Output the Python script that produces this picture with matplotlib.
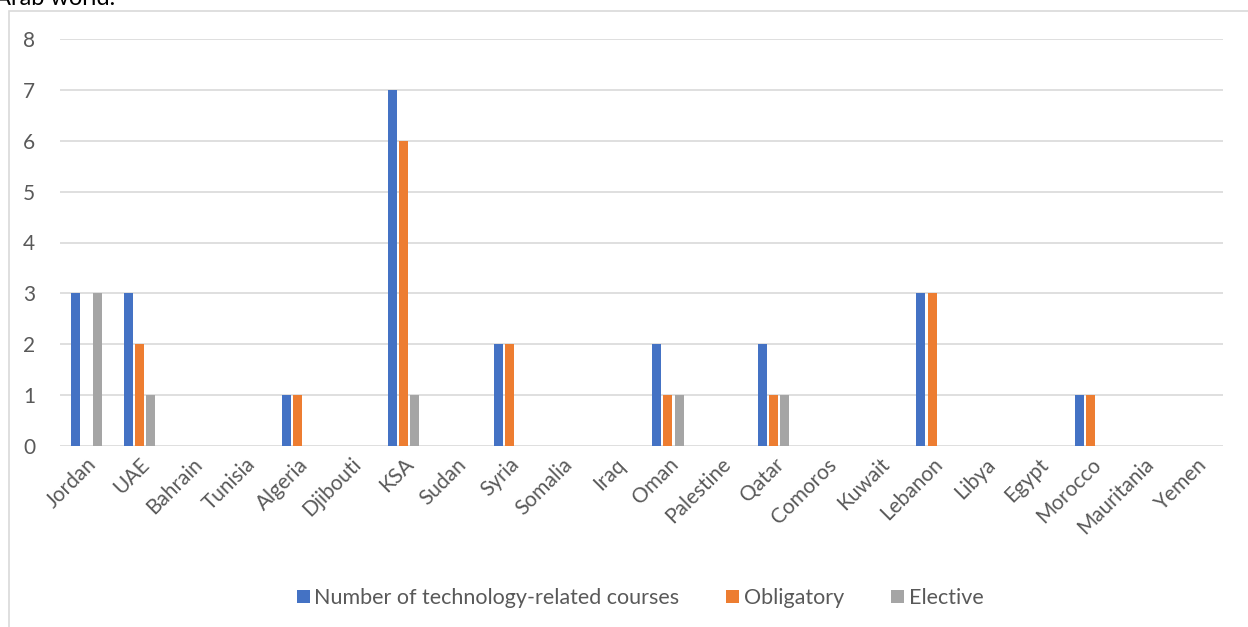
import matplotlib
matplotlib.use("Agg")
import matplotlib.pyplot as plt
import numpy as np
from matplotlib.patches import Rectangle, Patch

countries = ["Jordan", "UAE", "Bahrain", "Tunisia", "Algeria", "Djibouti", "KSA", "Sudan",
             "Syria", "Somalia", "Iraq", "Oman", "Palestine", "Qatar", "Comoros", "Kuwait",
             "Lebanon", "Libya", "Egypt", "Morocco", "Mauritania", "Yemen"]
total = [3, 3, 0, 0, 1, 0, 7, 0, 2, 0, 0, 2, 0, 2, 0, 0, 3, 0, 0, 1, 0, 0]
obligatory = [0, 2, 0, 0, 1, 0, 6, 0, 2, 0, 0, 1, 0, 1, 0, 0, 3, 0, 0, 1, 0, 0]
elective = [3, 1, 0, 0, 0, 0, 1, 0, 0, 0, 0, 1, 0, 1, 0, 0, 0, 0, 0, 0, 0, 0]
series_names = ["Number of technology-related courses", "Obligatory", "Elective"]
colors = ["#4472C4", "#ED7D31", "#A5A5A5"]

plt.rcParams['font.family'] = ['Lato', 'DejaVu Sans']
W, H = 1248, 627
fig = plt.figure(figsize=(W/100, H/100), dpi=100)
ax = fig.add_axes([60/W, 1-446/H, (1223-60)/W, (446-39)/H])

x = np.arange(len(countries))
bw = 0.17
gap = 0.043
for i, (vals, c) in enumerate(zip([total, obligatory, elective], colors)):
    ax.bar(x + (i-1)*(bw+gap), vals, width=bw, color=c, zorder=3)

ax.set_xlim(-0.5, len(countries)-0.5)
ax.set_ylim(0, 8)
ax.set_yticks(range(0, 9))
ax.grid(axis='y', color='#D9D9D9', linewidth=1.2, zorder=0)
for s in ax.spines.values():
    s.set_visible(False)
ax.tick_params(axis='y', length=0, pad=18, labelsize=15, labelcolor='#595959')
ax.tick_params(axis='x', length=0, pad=6, labelsize=15, labelcolor='#595959')
ax.set_xticks(x)
ax.set_xticklabels(countries, rotation=45, ha='right', rotation_mode='anchor')

# outer chart border
fig.patches.append(Rectangle((9/W, -0.05), 1.1, 1-11/H+0.05, transform=fig.transFigure,
                             fill=False, edgecolor='#D9D9D9', linewidth=1.2))
fig.text(-5/W, 1-5/H, "Arab world.", fontsize=17, color='black', va='baseline', ha='left')

handles = [Patch(facecolor=c, edgecolor='none') for c in colors]
fig.legend(handles, series_names, loc='center', bbox_to_anchor=(640/W, 1-598/H),
           ncol=3, frameon=False, fontsize=15.5, labelcolor='#595959',
           handlelength=0.6, handleheight=0.6, handletextpad=0.2, columnspacing=2.2)

fig.savefig("out.png", dpi=100)
